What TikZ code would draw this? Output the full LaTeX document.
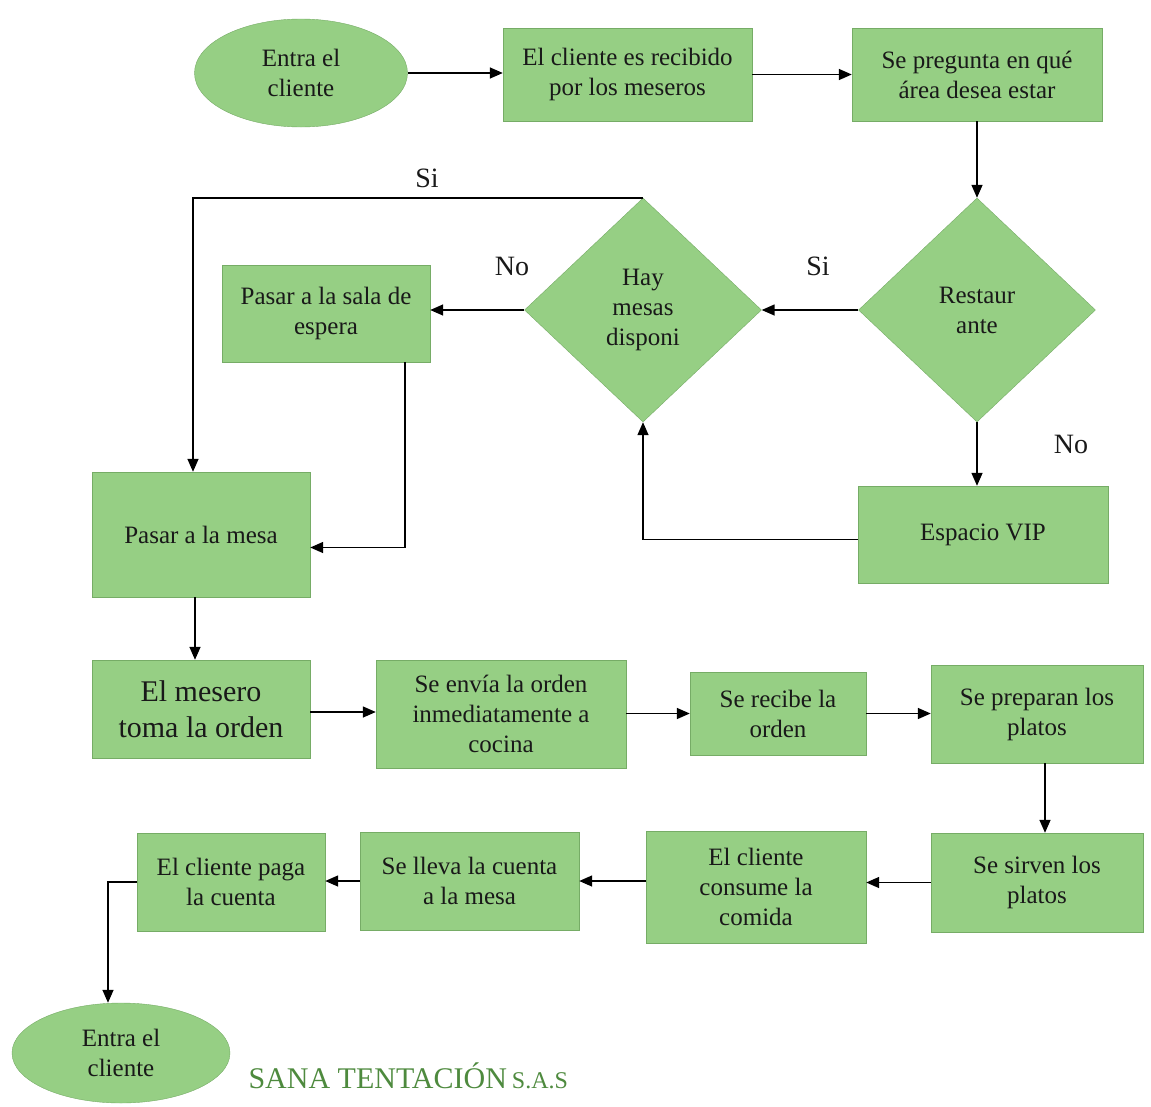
\documentclass[tikz,border=0pt]{standalone}
\usepackage{fontspec}
\setmainfont{Liberation Serif}
\usetikzlibrary{shapes.geometric,arrows.meta}
\definecolor{boxgreen}{RGB}{150,207,132}
\definecolor{edgegreen}{RGB}{118,172,102}
\definecolor{titlegreen}{RGB}{78,138,62}

\begin{document}
\begin{tikzpicture}[x=1pt,y=-1pt,
  every node/.style={font=\fontsize{25}{30}\selectfont, align=center, text=black!90},
  proc/.style={rectangle, draw=edgegreen, fill=boxgreen, inner sep=2pt},
  term/.style={ellipse, draw=edgegreen, fill=boxgreen, inner sep=0pt},
  choice/.style={diamond, draw=edgegreen, fill=boxgreen, inner sep=0pt},
  lbl/.style={font=\fontsize{28}{32}\selectfont},
  flow/.style={line width=1.5pt, -{Triangle[length=13pt,width=11pt]}}]
  \useasboundingbox (0,0) rectangle (1151,1106);

  % top row
  \node[term, minimum width=213, minimum height=108] (entra) at (301,73) {Entra el\\cliente};
  \node[proc, minimum width=249, minimum height=93] (recibido) at (627.5,74.5) {El cliente es recibido\\por los meseros};
  \node[proc, minimum width=250, minimum height=93] (pregunta) at (977,74.5) {Se pregunta en qué\\área desea estar};

  % decisions
  \node[choice, minimum width=237, minimum height=224] (rest) at (977,310) {Restaur\\ante};
  \node[choice, minimum width=237, minimum height=224] (hay) at (643,310) {Hay\\mesas\\disponi};
  \node[proc, minimum width=208, minimum height=97] (sala) at (326,313.5) {Pasar a la sala de\\espera};
  \node[proc, minimum width=218, minimum height=125] (mesa) at (201,534.5) {Pasar a la mesa};
  \node[proc, minimum width=250, minimum height=97] (vip) at (983,534.5) {Espacio VIP};

  \node[lbl] (si1) at (427,178) {Si};
  \node[lbl] (no1) at (512,266) {No};
  \node[lbl] (si2) at (818,266) {Si};
  \node[lbl] (no2) at (1071,444) {No};

  % order row
  \node[proc, minimum width=218, minimum height=98, font=\fontsize{30}{36}\selectfont] (mesero) at (201,709) {El mesero\\toma la orden};
  \node[proc, minimum width=250, minimum height=108] (envia) at (501,714) {Se envía la orden\\inmediatamente a\\cocina};
  \node[proc, minimum width=176, minimum height=83] (recibe) at (778,713.5) {Se recibe la\\orden};
  \node[proc, minimum width=212, minimum height=98] (preparan) at (1037,714) {Se preparan los\\platos};

  % bottom row
  \node[proc, minimum width=212, minimum height=99] (sirven) at (1037,882.5) {Se sirven los\\platos};
  \node[proc, minimum width=220, minimum height=112] (consume) at (756,887) {El cliente\\consume la\\comida};
  \node[proc, minimum width=219, minimum height=98] (lleva) at (469.5,881) {Se lleva la cuenta\\a la mesa};
  \node[proc, minimum width=188, minimum height=98] (paga) at (231,882) {El cliente paga\\la cuenta};
  \node[term, minimum width=218, minimum height=100] (salida) at (121,1053) {Entra el\\cliente};

  \node[anchor=base west, text=titlegreen, font=\fontsize{30}{34}\selectfont] (marca) at (245,1088)
    {SANA TENTACIÓN\,{\fontsize{24}{26}\selectfont S.A.S}};

  % connectors
  \draw[flow] (entra.east) -- (entra.east -| recibido.west);
  \draw[flow] (recibido.east) -- (recibido.east -| pregunta.west);
  \draw[flow] (pregunta.south) -- (rest.north);
  \draw[flow] (rest.west) -- (hay.east);
  \draw[flow] (hay.west) -- (hay.west -| sala.east);
  \draw[flow] (hay.north) -| ([xshift=-8]mesa.north);
  \draw[flow] ([xshift=79]sala.south) |- ([yshift=-13]mesa.east);
  \draw[flow] (rest.south) -- (rest.south |- vip.north);
  \draw[flow] ([yshift=-5]vip.west) -| (hay.south);
  \draw[flow] ([xshift=-6]mesa.south) -- ([xshift=-6]mesero.north);
  \draw[flow] ([yshift=-3]mesero.east) -- ([yshift=-3]mesero.east -| envia.west);
  \draw[flow] (recibe.west -| envia.east) -- (recibe.west);
  \draw[flow] (recibe.east) -- (recibe.east -| preparan.west);
  \draw[flow] ([xshift=8]preparan.south) -- ([xshift=8]sirven.north);
  \draw[flow] (sirven.west) -- (sirven.west -| consume.east);
  \draw[flow] (lleva.east -| consume.west) -- (lleva.east);
  \draw[flow] (lleva.west) -- (lleva.west -| paga.east);
  \draw[flow] (paga.west) -| ([xshift=-13]salida.north);
\end{tikzpicture}
\end{document}
